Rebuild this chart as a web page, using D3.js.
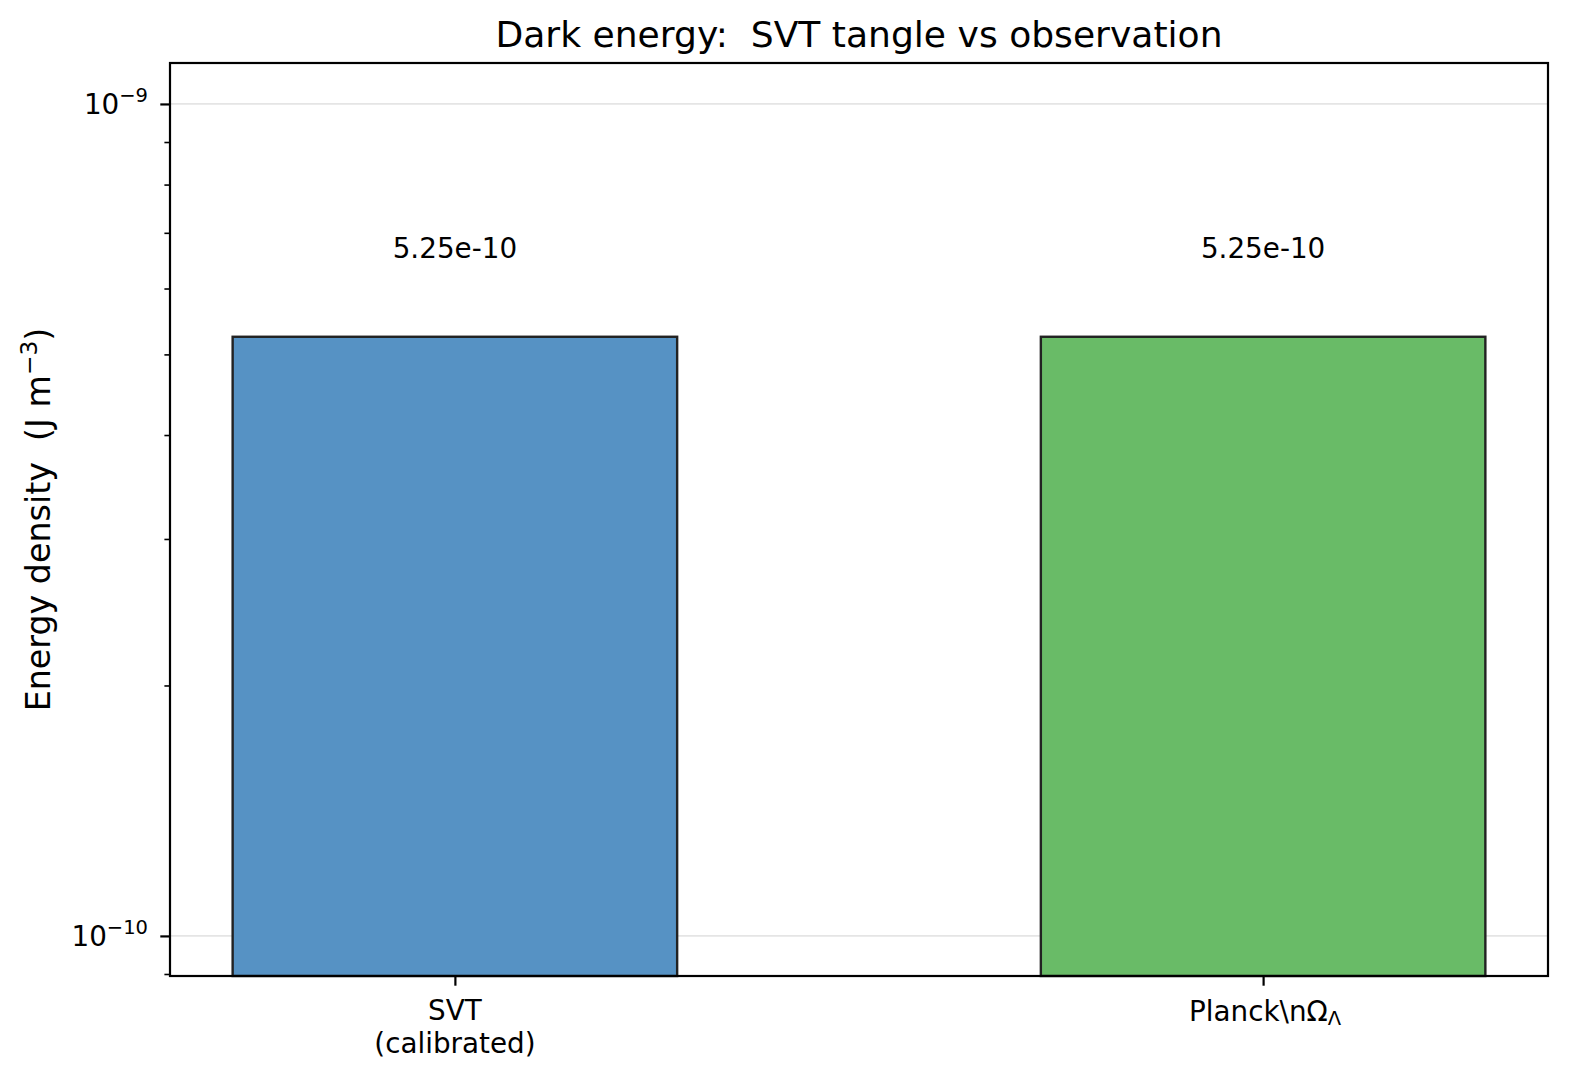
<!DOCTYPE html>
<html>
<head>
<meta charset="utf-8">
<script src="https://cdn.jsdelivr.net/npm/d3@7"></script>
<style>
  html, body { margin: 0; padding: 0; background: #fff; }
  svg { display: block; font-family: "DejaVu Sans", sans-serif; }
</style>
</head>
<body>
<svg id="chart" width="1571" height="1079"></svg>
<script>
// ---- data ----
const categories = ["SVT\n(calibrated)", "Planck\\nΩΛ"];
const values = [5.25e-10, 5.25e-10];
const valueLabels = ["5.25e-10", "5.25e-10"];
const barColors = ["#5692c4", "#69bb67"];
const yTickValues = [1e-10, 1e-9];
const yTickExponents = ["−10", "−9"];
const yDomain = [8.95e-11, 1.12e-9];
const xDomain = [-0.3525, 1.3525];
const barWidth = 0.55;

// ---- layout ----
const W = 1571, H = 1079;
const plot = { left: 170, right: 1548, top: 63, bottom: 976 };
const svg = d3.select("#chart");

const x = d3.scaleLinear().domain(xDomain).range([plot.left, plot.right]);
const y = d3.scaleLog().domain(yDomain).range([plot.bottom, plot.top]);

// gridlines at major ticks
svg.append("g").selectAll("line").data(yTickValues).join("line")
  .attr("x1", plot.left).attr("x2", plot.right)
  .attr("y1", d => y(d)).attr("y2", d => y(d))
  .attr("stroke", "#e5e5e5").attr("stroke-width", 1.8);

// bars
svg.append("g").selectAll("rect").data(values).join("rect")
  .attr("x", (d, i) => x(i - barWidth / 2))
  .attr("width", (d, i) => x(i + barWidth / 2) - x(i - barWidth / 2))
  .attr("y", d => y(d))
  .attr("height", d => plot.bottom - y(d))
  .attr("fill", (d, i) => barColors[i])
  .attr("stroke", "#222").attr("stroke-width", 2.4);

// value labels
svg.append("g").selectAll("text").data(values).join("text")
  .attr("x", (d, i) => x(i))
  .attr("y", d => y(d * 1.28) + 10)
  .attr("text-anchor", "middle")
  .attr("font-size", 27.8)
  .attr("fill", "#000")
  .text((d, i) => valueLabels[i]);

// spines
svg.append("rect")
  .attr("x", plot.left).attr("y", plot.top)
  .attr("width", plot.right - plot.left).attr("height", plot.bottom - plot.top)
  .attr("fill", "none").attr("stroke", "#000").attr("stroke-width", 2.2);

// y axis ticks (major + minor) via d3 axis
const minorTicks = [];
for (let e = -11; e <= -9; e++) {
  for (let m = 2; m <= 9; m++) {
    const v = m * Math.pow(10, e);
    if (v >= yDomain[0] && v <= yDomain[1]) minorTicks.push(v);
  }
}
const yAxisMinor = d3.axisLeft(y).tickValues(minorTicks).tickSize(5.6).tickFormat("");
const gMinor = svg.append("g").attr("transform", `translate(${plot.left},0)`).call(yAxisMinor);
gMinor.select(".domain").remove();
gMinor.selectAll("line").attr("stroke", "#000").attr("stroke-width", 1.6);

const yAxisMajor = d3.axisLeft(y).tickValues(yTickValues).tickSize(9.7).tickFormat("");
const gMajor = svg.append("g").attr("transform", `translate(${plot.left},0)`).call(yAxisMajor);
gMajor.select(".domain").remove();
gMajor.selectAll("line").attr("stroke", "#000").attr("stroke-width", 2.2);

// y tick labels with superscript
yTickValues.forEach((v, i) => {
  const t = svg.append("text")
    .attr("x", 148).attr("y", y(v) + 10)
    .attr("text-anchor", "end")
    .attr("font-size", 27.8).attr("fill", "#000");
  t.append("tspan").text("10");
  t.append("tspan").attr("font-size", 19.5).attr("dy", -12).text(yTickExponents[i]);
});

// x axis ticks
const xAxis = d3.axisBottom(x).tickValues(categories.map((c, i) => i)).tickSize(9.7).tickFormat("");
const gx = svg.append("g").attr("transform", `translate(0,${plot.bottom})`).call(xAxis);
gx.select(".domain").remove();
gx.selectAll("line").attr("stroke", "#000").attr("stroke-width", 2.2);

// x tick labels
// SVT (calibrated)
{
  const lines = categories[0].split("\n");
  lines.forEach((ln, j) => {
    svg.append("text")
      .attr("x", x(0)).attr("y", 1020 + j * 32.5)
      .attr("text-anchor", "middle")
      .attr("font-size", 27.8).attr("fill", "#000")
      .text(ln);
  });
}
// Planck\nΩ_Λ (literal backslash-n, Λ subscript)
{
  const lbl = categories[1];
  const t = svg.append("text")
    .attr("x", x(1) + 2).attr("y", 1021)
    .attr("text-anchor", "middle")
    .attr("font-size", 27.8).attr("fill", "#000");
  t.append("tspan").text(lbl.slice(0, -1));
  t.append("tspan").attr("font-size", 19.5).attr("dy", 4).text(lbl.slice(-1));
}

// y axis label
svg.append("text")
  .attr("transform", `translate(50,${(plot.top + plot.bottom) / 2}) rotate(-90)`)
  .attr("text-anchor", "middle")
  .attr("font-size", 33.3).attr("fill", "#000")
  .call(t => {
    t.append("tspan").text("Energy density\u00a0\u00a0(J m");
    t.append("tspan").attr("font-size", 23.3).attr("dy", -13).text("−3");
    t.append("tspan").attr("dy", 13).text(")");
  });

// title
svg.append("text")
  .attr("x", (plot.left + plot.right) / 2).attr("y", 47)
  .attr("text-anchor", "middle")
  .attr("font-size", 36.1).attr("fill", "#000")
  .text("Dark energy:\u00a0\u00a0SVT tangle vs observation");
</script>
</body>
</html>
